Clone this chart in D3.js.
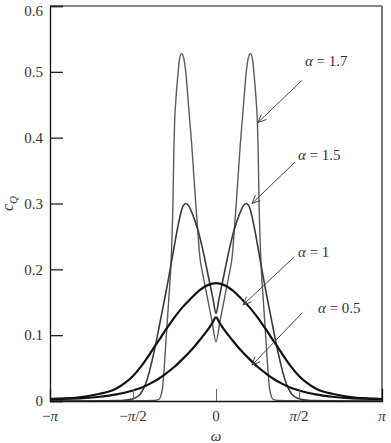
<!DOCTYPE html>
<html>
<head>
<meta charset="utf-8">
<script src="https://cdn.jsdelivr.net/npm/d3@7"></script>
<style>
  body { margin: 0; background: #fff; }
  svg { display: block; }
  text { font-family: "Liberation Serif", "DejaVu Serif", serif; fill: #333; }
</style>
</head>
<body>
<div id="chart"></div>
<script>
// omega given in units of pi
const omega05 = [-1, -0.9, -0.8, -0.7, -0.6, -0.5, -0.45, -0.4, -0.35, -0.3, -0.25, -0.2, -0.15, -0.1, -0.05, -0.025,
  0, 0.025, 0.05, 0.1, 0.15, 0.2, 0.25, 0.3, 0.35, 0.4, 0.45, 0.5, 0.6, 0.7, 0.8, 0.9, 1];
const cq05 = [0.003, 0.0035, 0.0045, 0.0065, 0.010, 0.016, 0.020, 0.026, 0.033, 0.042, 0.052, 0.064, 0.077, 0.092, 0.108, 0.117,
  0.127, 0.117, 0.108, 0.092, 0.077, 0.064, 0.052, 0.042, 0.033, 0.026, 0.020, 0.016, 0.010, 0.0065, 0.0045, 0.0035, 0.003];

const omega1 = [-1, -0.9, -0.8, -0.7, -0.65, -0.6, -0.55, -0.5, -0.45, -0.4, -0.35, -0.3, -0.25, -0.2, -0.15, -0.1, -0.05,
  0, 0.05, 0.1, 0.15, 0.2, 0.25, 0.3, 0.35, 0.4, 0.45, 0.5, 0.55, 0.6, 0.65, 0.7, 0.8, 0.9, 1];
const cq1 = [0.003, 0.004, 0.0065, 0.011, 0.014, 0.019, 0.027, 0.038, 0.053, 0.071, 0.090, 0.109, 0.127, 0.143, 0.156, 0.168, 0.176,
  0.179, 0.176, 0.168, 0.156, 0.143, 0.127, 0.109, 0.090, 0.071, 0.053, 0.038, 0.027, 0.019, 0.014, 0.011, 0.0065, 0.004, 0.003];

const omega15 = [-1, -0.723, -0.602, -0.542, -0.494, -0.458, -0.434, -0.416, -0.398, -0.380, -0.361, -0.343, -0.325, -0.307, -0.289,
  -0.271, -0.253, -0.235, -0.217, -0.199, -0.181, -0.163, -0.145, -0.127, -0.108, -0.090, -0.072, -0.054, -0.036, -0.018,
  0, 0.018, 0.036, 0.054, 0.072, 0.090, 0.108, 0.127, 0.145, 0.163, 0.181, 0.199, 0.217, 0.235, 0.253, 0.271, 0.289,
  0.307, 0.325, 0.343, 0.361, 0.380, 0.398, 0.416, 0.434, 0.458, 0.494, 0.542, 0.602, 0.723, 1];
const cq15 = [0, 0.0001, 0.0005, 0.0015, 0.004, 0.010, 0.020, 0.032, 0.048, 0.067, 0.089, 0.112, 0.135, 0.158, 0.182,
  0.207, 0.233, 0.258, 0.280, 0.296, 0.300, 0.296, 0.286, 0.274, 0.259, 0.241, 0.221, 0.199, 0.177, 0.155,
  0.133, 0.155, 0.177, 0.199, 0.221, 0.241, 0.259, 0.274, 0.286, 0.296, 0.300, 0.296, 0.280, 0.258, 0.233, 0.207, 0.182,
  0.158, 0.135, 0.112, 0.089, 0.067, 0.048, 0.032, 0.020, 0.010, 0.004, 0.0015, 0.0005, 0.0001, 0];

const omega17 = [-1, -0.482, -0.373, -0.343, -0.331, -0.322, -0.313, -0.303, -0.293, -0.283, -0.273, -0.265, -0.259, -0.254,
  -0.249, -0.241, -0.229, -0.220, -0.207, -0.193, -0.181, -0.169, -0.158, -0.145, -0.133, -0.122, -0.108, -0.096, -0.084,
  -0.072, -0.048, -0.024,
  0, 0.024, 0.048, 0.072, 0.084, 0.096, 0.108, 0.122, 0.133, 0.145, 0.158, 0.169, 0.181, 0.193, 0.207, 0.220, 0.229,
  0.241, 0.249, 0.254, 0.259, 0.265, 0.273, 0.283, 0.293, 0.303, 0.313, 0.322, 0.331, 0.343, 0.373, 0.482, 1];
const cq17 = [0, 0.0003, 0.001, 0.0026, 0.009, 0.020, 0.047, 0.085, 0.123, 0.160, 0.199, 0.250, 0.305, 0.380,
  0.426, 0.460, 0.497, 0.519, 0.528, 0.519, 0.497, 0.460, 0.426, 0.385, 0.340, 0.300, 0.252, 0.216, 0.198,
  0.183, 0.152, 0.121,
  0.090, 0.121, 0.152, 0.183, 0.198, 0.216, 0.252, 0.300, 0.340, 0.385, 0.426, 0.460, 0.497, 0.519, 0.528, 0.519, 0.497,
  0.460, 0.426, 0.380, 0.305, 0.250, 0.199, 0.160, 0.123, 0.085, 0.047, 0.020, 0.009, 0.0026, 0.001, 0.0003, 0];

const yTicks = [0, 0.1, 0.2, 0.3, 0.4, 0.5, 0.6];
const xTicks = [-1, -0.5, 0, 0.5, 1];
const xTickLabels = [["−", "π", ""], ["−", "π", "/2"], ["", "", "0"], ["", "π", "/2"], ["", "π", ""]];

// label text, arrow tail (w, c), arrow tip (w, c), label start (w, c)
const notes = [
  { label: "1.7", tail: [0.518, 0.487], tip: [0.253, 0.423], at: [0.536, 0.517] },
  { label: "1.5", tail: [0.476, 0.363], tip: [0.217, 0.300], at: [0.494, 0.373] },
  { label: "1",   tail: [0.470, 0.2185], tip: [0.163, 0.146], at: [0.494, 0.226] },
  { label: "0.5", tail: [0.518, 0.1335], tip: [0.217, 0.0546], at: [0.614, 0.141] }
];

const series = [
  { w: omega17, c: cq17, color: "#5a5a5a", width: 1.4 },
  { w: omega15, c: cq15, color: "#3a3a3a", width: 1.6 },
  { w: omega1, c: cq1, color: "#111", width: 2.2 },
  { w: omega05, c: cq05, color: "#111", width: 2.2 }
];

const width = 391, height = 443;
const margin = { top: 6, right: 9, bottom: 42, left: 50 };

const x = d3.scaleLinear().domain([-1, 1]).range([margin.left, width - margin.right]);
const y = d3.scaleLinear().domain([0, 0.6]).range([height - margin.bottom, margin.top]);

const svg = d3.select("#chart").append("svg")
  .attr("width", width)
  .attr("height", height);

// frame: top black, right gray
svg.append("line")
  .attr("x1", x(-1)).attr("x2", x(1)).attr("y1", y(0.6)).attr("y2", y(0.6))
  .attr("stroke", "#111").attr("stroke-width", 1.2);
svg.append("line")
  .attr("x1", x(1)).attr("x2", x(1)).attr("y1", y(0.6)).attr("y2", y(0))
  .attr("stroke", "#777").attr("stroke-width", 2);

const line = d3.line()
  .x(d => x(d[0]))
  .y(d => y(d[1]))
  .curve(d3.curveMonotoneX);

svg.append("g")
  .attr("fill", "none")
  .selectAll("path")
  .data(series)
  .join("path")
    .attr("d", s => line(s.w.map((w, i) => [w, s.c[i]])))
    .attr("stroke", s => s.color)
    .attr("stroke-width", s => s.width)
    .attr("stroke-linejoin", "round");

// y axis with inward ticks
const yAxis = svg.append("g")
  .attr("transform", `translate(${margin.left},0)`)
  .call(d3.axisLeft(y).tickValues(yTicks).tickSize(-13).tickPadding(7)
    .tickFormat(d => d === 0 ? "0" : d3.format(".1f")(d)));
yAxis.select(".domain").attr("stroke", "#111").attr("stroke-width", 1.3);
yAxis.selectAll(".tick line").attr("stroke", "#222").attr("stroke-width", 1.3);
yAxis.selectAll(".tick text")
  .attr("font-family", "Liberation Serif, serif")
  .attr("font-size", 15)
  .attr("fill", "#333")
  .attr("dy", d => d === 0.6 ? "0.62em" : "0.32em");

// x axis with inward ticks
const xAxis = svg.append("g")
  .attr("transform", `translate(0,${y(0)})`)
  .call(d3.axisBottom(x).tickValues(xTicks).tickSize(-12).tickFormat(""));
xAxis.select(".domain").attr("stroke", "#111").attr("stroke-width", 1.3);
xAxis.selectAll(".tick line")
  .attr("stroke", "#666")
  .attr("stroke-width", 1)
  .attr("display", d => Math.abs(d) === 1 ? "none" : null);

const xl = svg.append("g")
  .selectAll("text")
  .data(xTicks)
  .join("text")
    .attr("x", d => x(d))
    .attr("y", y(0) + 20)
    .attr("text-anchor", "middle")
    .attr("font-size", 15);
xl.each(function (d, i) {
  const t = d3.select(this);
  const parts = xTickLabels[i];
  if (parts[0]) t.append("tspan").text(parts[0]);
  if (parts[1]) t.append("tspan").attr("font-style", "italic").text(parts[1]);
  if (parts[2]) t.append("tspan").text(parts[2]);
});

// axis titles
svg.append("text")
  .attr("x", x(0))
  .attr("y", height - 2)
  .attr("text-anchor", "middle")
  .attr("font-size", 15)
  .attr("font-style", "italic")
  .text("ω");

const yt = svg.append("text")
  .attr("transform", `translate(13,${y(0.3)}) rotate(-90)`)
  .attr("text-anchor", "middle")
  .attr("font-size", 16)
  .attr("font-style", "italic");
yt.append("tspan").text("c");
yt.append("tspan").attr("font-size", 11).attr("dy", 4).text("Q");

// annotations
const ann = svg.append("g").selectAll("g").data(notes).join("g");
ann.append("line")
  .attr("x1", d => x(d.tail[0])).attr("y1", d => y(d.tail[1]))
  .attr("x2", d => x(d.tip[0])).attr("y2", d => y(d.tip[1]))
  .attr("stroke", "#444").attr("stroke-width", 1);
ann.append("path")
  .attr("fill", "none").attr("stroke", "#444").attr("stroke-width", 1)
  .attr("d", d => {
    const x1 = x(d.tail[0]), y1 = y(d.tail[1]), x2 = x(d.tip[0]), y2 = y(d.tip[1]);
    const a = Math.atan2(y1 - y2, x1 - x2), L = 9, s = 0.42;
    return `M${x2 + L * Math.cos(a + s)},${y2 + L * Math.sin(a + s)}L${x2},${y2}L${x2 + L * Math.cos(a - s)},${y2 + L * Math.sin(a - s)}`;
  });
const lab = ann.append("text")
  .attr("x", d => x(d.at[0]))
  .attr("y", d => y(d.at[1]) + 5)
  .attr("font-size", 15);
lab.append("tspan").attr("font-style", "italic").text("α");
lab.append("tspan").text(d => " = " + d.label);
</script>
</body>
</html>
